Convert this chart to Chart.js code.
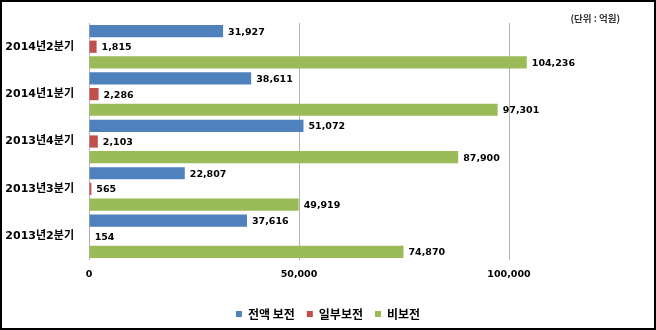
<!DOCTYPE html>
<html>
<head>
<meta charset="utf-8">
<script src="https://cdn.jsdelivr.net/npm/chart.js@4"></script>
<style>
  html, body { margin: 0; padding: 0; background: #fff; }
  #wrap { position: relative; width: 656px; height: 330px; }
  #frame { position: absolute; left: 0; top: 0; width: 656px; height: 330px; box-sizing: border-box; border: 2px solid #000; pointer-events: none; }
</style>
</head>
<body>
<div id="wrap">
  <canvas id="chart" width="656" height="330"></canvas>
  <div id="frame"></div>
</div>
<script>
// quarters, top to bottom
const quarters = ['2014년2분기', '2014년1분기', '2013년4분기', '2013년3분기', '2013년2분기'];
const fullCover = [31927, 38611, 51072, 22807, 37616];
const partCover = [1815, 2286, 2103, 565, 154];
const noCover = [104236, 97301, 87900, 49919, 74870];
const xTicks = [0, 50000, 100000];
const unitNote = '(단위 : 억원)';

const numFont = '"DejaVu Sans", "Noto Sans CJK KR", sans-serif';

// value labels to the right of each bar
const valueLabels = {
    id: 'valueLabels',
    afterDatasetsDraw(chart) {
        const ctx = chart.ctx;
        ctx.save();
        ctx.font = 'bold 9.5px ' + numFont;
        ctx.fillStyle = '#000';
        ctx.textBaseline = 'middle';
        ctx.textAlign = 'left';
        chart.data.datasets.forEach((ds, i) => {
            chart.getDatasetMeta(i).data.forEach((bar, j) => {
                ctx.fillText(ds.data[j].toLocaleString('en-US'), bar.x + 5, bar.y + 1);
            });
        });
        ctx.restore();
    }
};

// unit note in the top right corner
const unitText = {
    id: 'unitText',
    afterDraw(chart) {
        const ctx = chart.ctx;
        ctx.save();
        ctx.font = 'bold 9.5px "Noto Sans CJK KR", sans-serif';
        ctx.fillStyle = '#333';
        ctx.textAlign = 'right';
        ctx.textBaseline = 'middle';
        ctx.fillText(unitNote, 620, 18);
        ctx.restore();
    }
};

new Chart(document.getElementById('chart'), {
    type: 'bar',
    data: {
        labels: quarters,
        datasets: [
            { label: '전액 보전', data: fullCover, backgroundColor: '#4F81BD' },
            { label: '일부보전', data: partCover, backgroundColor: '#C0504D' },
            { label: '비보전', data: noCover, backgroundColor: '#9BBB59' }
        ]
    },
    options: {
        indexAxis: 'y',
        responsive: false,
        animation: false,
        datasets: { bar: { barPercentage: 0.78, categoryPercentage: 0.99 } },
        layout: { padding: { left: 0, right: 0, top: 23, bottom: 0 } },
        scales: {
            x: {
                min: 0,
                max: 135000,
                afterBuildTicks: s => { s.ticks = xTicks.map(v => ({ value: v })); },
                afterFit: s => { s.height = 36; },
                border: { display: false },
                grid: { color: '#b4b4b4', drawTicks: false, lineWidth: 1 },
                ticks: {
                    padding: 9,
                    color: '#000',
                    font: { family: numFont, size: 9.5, weight: 'bold' },
                    callback: v => v.toLocaleString('en-US')
                }
            },
            y: {
                afterFit: s => { s.width = 89; },
                border: { display: false },
                grid: { display: false },
                ticks: {
                    padding: 7,
                    color: '#000',
                    font: { family: numFont, size: 11, weight: 'bold' }
                }
            }
        },
        plugins: {
            legend: {
                position: 'bottom',
                labels: {
                    boxWidth: 6,
                    boxHeight: 6,
                    padding: 12,
                    color: '#000',
                    font: { family: '"Noto Sans CJK KR", sans-serif', size: 12, weight: 'bold', lineHeight: 1 }
                }
            },
            tooltip: { enabled: false }
        }
    },
    plugins: [valueLabels, unitText]
});
</script>
</body>
</html>
